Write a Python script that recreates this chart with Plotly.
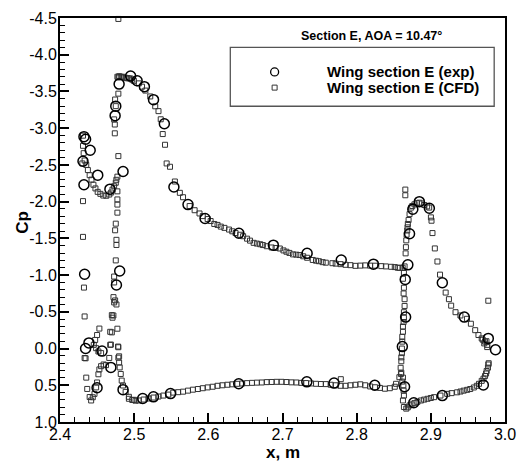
import plotly.graph_objects as go

# ---------------- data ----------------
exp_x = [2.4323, 2.4345, 2.4407, 2.4310, 2.4509, 2.4323, 2.4673, 2.4850,
         2.4743, 2.4752, 2.4797, 2.4952, 2.5040, 2.5138, 2.5261, 2.5407, 2.5536,
         2.5726, 2.5956, 2.6412, 2.6877, 2.7332, 2.7792, 2.8226,
         2.4332, 2.4345, 2.4390, 2.4567, 2.4686, 2.4500, 2.4805, 2.4761, 2.4850,
         2.5115, 2.5260, 2.5490, 2.6410, 2.7328, 2.7695, 2.8244, 2.8646,
         2.8845, 2.8757, 2.8980, 2.8713, 2.8690, 2.8655, 2.8660, 2.8616,
         2.8770, 2.9155, 2.9708, 2.9155, 2.9451, 2.9775, 2.9872]
exp_cp = [-2.885, -2.85, -2.70, -2.55, -2.36, -2.23, -2.17, -2.41,
          -3.17, -3.30, -3.60, -3.71, -3.645, -3.565, -3.388, -3.06, -2.20,
          -1.96, -1.77, -1.57, -1.407, -1.296, -1.206, -1.149,
          -1.011, 0.0, -0.077, 0.035, 0.257, 0.533, -1.056, -0.865, 0.56,
          0.68, 0.657, 0.613, 0.48, 0.453, 0.47, 0.50, 0.52,
          -2.0, -1.897, -1.91, -1.563, -1.14, -0.94, -0.428, -0.027,
          0.738, 0.64, 0.497, -0.895, -0.428, -0.138, 0.017]

# slat
slat_x = [2.4310, 2.4310, 2.4319, 2.4332, 2.4354, 2.4376, 2.4400, 2.4425, 2.4451,
          2.4478, 2.4508, 2.4544, 2.4584, 2.4624, 2.4664, 2.4690, 2.4708, 2.4730,
          2.4752, 2.4760, 2.4301, 2.4310, 2.4310, 2.4323, 2.4332, 2.4332, 2.4345,
          2.4354, 2.4367, 2.4400, 2.4420, 2.4442, 2.4465, 2.4487, 2.4500, 2.4518,
          2.4531, 2.4554, 2.4588, 2.4620, 2.4531, 2.4500, 2.4474, 2.4455, 2.4487,
          2.4518, 2.4554, 2.4677, 2.4677, 2.4664, 2.4730, 2.4720, 2.4774, 2.4783,
          2.4797]
slat_cp = [-2.898, -2.76, -2.66, -2.56, -2.50, -2.43, -2.36, -2.30, -2.23,
           -2.18, -2.133, -2.106, -2.083, -2.08, -2.097, -2.124, -2.164, -2.21,
           -2.257, -2.297, -2.52, -2.007, -1.52, -0.83, -0.437, 0.129, 0.133,
           0.396, 0.55, 0.66, 0.707, 0.663, 0.617, 0.529, 0.462, 0.35,
           0.284, 0.24, 0.217, 0.226, -0.272, -0.184, -0.117, -0.05, -0.005,
           0.04, 0.062, -0.228, -0.05, 0.128, -0.628, -0.45, -0.27, -0.027,
           0.106]

# main element leading edge column
mle_x = [2.4787, 2.4774, 2.4787, 2.4819, 2.4787, 2.4743, 2.4752, 2.4730, 2.4739,
         2.4739, 2.4787, 2.4774, 2.4774, 2.4774, 2.4774, 2.4774, 2.4752, 2.4743,
         2.4761, 2.4761, 2.4752, 2.4730, 2.4730, 2.4721, 2.4743, 2.4761, 2.4699,
         2.4708, 2.4699, 2.4686, 2.4787, 2.4787, 2.4797, 2.4805, 2.4819, 2.4832,
         2.4850, 2.4885, 2.4929, 2.4974, 2.5018]
mle_cp = [-4.487, -3.70, -3.69, -3.70, -3.47, -3.39, -3.30, -3.12, -3.05,
          -2.93, -2.62, -2.34, -2.14, -2.03, -1.96, -1.85, -1.70, -1.61,
          -1.48, -1.41, -1.20, -0.98, -0.90, -0.70, -0.655, -0.60, -0.455,
          -0.42, -0.22, -0.054, -0.018, 0.124, 0.19, 0.257, 0.346, 0.436,
          0.503, 0.59, 0.657, 0.70, 0.71]

# main element upper surface
mup_x = [2.4797, 2.4840, 2.4863, 2.4885, 2.4908, 2.4930, 2.4952, 2.4974, 2.4996,
         2.5062, 2.5106, 2.5151, 2.5217, 2.5284, 2.5328, 2.5358, 2.5385, 2.5416,
         2.5438, 2.5483, 2.5549, 2.5616, 2.5659, 2.5748, 2.5815, 2.5881, 2.5925,
         2.5991, 2.6031, 2.6080, 2.6124, 2.6168, 2.6217, 2.6279, 2.6323, 2.6367,
         2.6429, 2.6469, 2.6522, 2.6562, 2.6611, 2.6655, 2.6699, 2.6735, 2.6788,
         2.6854, 2.6907, 2.6964, 2.7013, 2.7053, 2.7093, 2.7142, 2.7186, 2.7230,
         2.7279, 2.7332, 2.7408, 2.7452, 2.7491, 2.7541, 2.7584, 2.7673, 2.7717,
         2.7783, 2.7850, 2.7916, 2.7983, 2.8049, 2.8115, 2.8182, 2.8248, 2.8332,
         2.8394, 2.8465, 2.8514, 2.8554, 2.8580, 2.8620]
mup_cp = [-3.708, -3.70, -3.69, -3.686, -3.68, -3.678, -3.676, -3.66, -3.645,
          -3.61, -3.565, -3.512, -3.432, -3.298, -3.232, -3.121, -2.92, -2.774,
          -2.52, -2.475, -2.274, -2.12, -2.06, -1.94, -1.883, -1.839, -1.803,
          -1.763, -1.736, -1.696, -1.683, -1.66, -1.643, -1.62, -1.596, -1.572,
          -1.549, -1.529, -1.496, -1.469, -1.439, -1.429, -1.42, -1.409, -1.393,
          -1.376, -1.369, -1.362, -1.336, -1.318, -1.302, -1.282, -1.278, -1.273,
          -1.256, -1.236, -1.206, -1.196, -1.189, -1.176, -1.169, -1.162, -1.156,
          -1.149, -1.14, -1.135, -1.126, -1.129, -1.132, -1.129, -1.128, -1.122,
          -1.118, -1.113, -1.109, -1.10, -1.099, -1.10]

# main element lower surface
mlo_x = [2.4929, 2.4996, 2.5062, 2.5128, 2.5195, 2.5261, 2.5328, 2.5394, 2.5460,
         2.5527, 2.5593, 2.5659, 2.5726, 2.5792, 2.5859, 2.5925, 2.5991, 2.6058,
         2.6124, 2.6190, 2.6257, 2.6323, 2.6390, 2.6456, 2.6522, 2.6589, 2.6655,
         2.6721, 2.6788, 2.6854, 2.6921, 2.6987, 2.7053, 2.7120, 2.7186, 2.7252,
         2.7319, 2.7385, 2.7452, 2.7518, 2.7584, 2.7651, 2.7717, 2.7783, 2.7786,
         2.7850, 2.7916, 2.7983, 2.8049, 2.8115, 2.8182, 2.8248, 2.8314, 2.8381,
         2.8447, 2.8514, 2.8531, 2.8576, 2.8597]
mlo_cp = [0.684, 0.698, 0.707, 0.694, 0.68, 0.667, 0.653, 0.64, 0.627,
          0.60, 0.594, 0.587, 0.573, 0.56, 0.551, 0.54, 0.529, 0.52,
          0.507, 0.50, 0.493, 0.487, 0.48, 0.476, 0.471, 0.467, 0.464,
          0.462, 0.457, 0.455, 0.453, 0.453, 0.456, 0.46, 0.462, 0.467,
          0.47, 0.475, 0.48, 0.483, 0.484, 0.493, 0.50, 0.507, 0.417,
          0.507, 0.50, 0.493, 0.487, 0.50, 0.516, 0.527, 0.536, 0.547,
          0.54, 0.52, 0.48, 0.39, 0.346]

# flap
flap_x = [2.8656, 2.8656, 2.8700, 2.8713, 2.8735, 2.8750, 2.8779, 2.8810, 2.8845,
          2.8880, 2.8912, 2.8950, 2.8978, 2.9001, 2.9009, 2.9022, 2.9054, 2.9089,
          2.9124, 2.9200, 2.9244, 2.9274, 2.9333, 2.9399, 2.9487, 2.9540, 2.9598,
          2.9642, 2.9686, 2.9700, 2.9720, 2.9731, 2.9750, 2.9760, 2.9761, 2.9775,
          2.8690, 2.8686, 2.8682, 2.8673, 2.8669, 2.8664, 2.8660, 2.8646, 2.8637,
          2.8624, 2.8637, 2.8633, 2.8646, 2.8646, 2.8637, 2.8637, 2.8633, 2.8624,
          2.8624, 2.8615, 2.8615, 2.8610, 2.8610, 2.8602, 2.8602, 2.8593, 2.8602,
          2.8624, 2.8615, 2.8630, 2.8633, 2.8637, 2.8624, 2.8637,
          2.8669, 2.8690, 2.8713, 2.8740, 2.8779, 2.8820, 2.8868, 2.8910, 2.8956,
          2.9000, 2.9044, 2.9130, 2.9221, 2.9280, 2.9354, 2.9400, 2.9443, 2.9490,
          2.9531, 2.9580, 2.9620, 2.9650, 2.9686, 2.9710, 2.9731, 2.9745, 2.9753,
          2.9770, 2.9775, 2.9780]
flap_cp = [-2.164, -2.087, -1.75, -1.83, -1.919, -1.94, -1.963, -1.98, -1.986,
           -1.975, -1.954, -1.935, -1.919, -1.786, -1.74, -1.572, -1.363, -1.185,
           -1.006, -0.762, -0.672, -0.584, -0.495, -0.45, -0.405, -0.338, -0.25,
           -0.184, -0.138, -0.12, -0.07, -0.094, -0.10, -0.02, -0.05, -0.651,
           -1.696, -1.65, -1.607, -1.55, -1.473, -1.38, -1.296, -1.118, -1.029,
           -0.95, -0.828, -0.75, -0.672, -0.58, -0.495, -0.42, -0.361, -0.30,
           -0.228, -0.16, -0.094, 0.0, 0.062, 0.12, 0.173, 0.262, 0.329,
           0.396, 0.45, 0.50, 0.573, 0.64, 0.707, 0.796,
           0.818, 0.80, 0.774, 0.76, 0.743, 0.725, 0.707, 0.695, 0.684,
           0.673, 0.662, 0.64, 0.617, 0.607, 0.596, 0.585, 0.573, 0.562,
           0.551, 0.53, 0.507, 0.48, 0.44, 0.41, 0.373, 0.34, 0.306,
           0.26, 0.217, 0.20]

cfd_x = slat_x + mle_x + mup_x + mlo_x + flap_x
cfd_cp = slat_cp + mle_cp + mup_cp + mlo_cp + flap_cp

x_ticks = [2.4, 2.5, 2.6, 2.7, 2.8, 2.9, 3.0]
x_ticktext = ["2.4", "2.5", "2.6", "2.7", "2.8", "2.9", "3.0"]
y_ticks = [-4.5, -4.0, -3.5, -3.0, -2.5, -2.0, -1.5, -1.0, -0.5, 0.0, 0.5, 1.0]
y_ticktext = ["-4.5", "-4.0", "-3.5", "-3.0", "-2.5", "-2.0", "-1.5", "-1.0",
              "-0.5", "0.0", "0.5", "1.0"]

title_text = "Section E, AOA = 10.47°"
legend_names = ["Wing section E (exp)", "Wing section E (CFD)"]

FONT = "Liberation Sans, Arial, Helvetica, sans-serif"

fig = go.Figure()
fig.add_trace(go.Scatter(
    x=cfd_x, y=cfd_cp, mode="markers", name=legend_names[1],
    marker=dict(symbol="square-open", size=5, color="#333333", line=dict(width=1)),
    showlegend=False, cliponaxis=False))
fig.add_trace(go.Scatter(
    x=exp_x, y=exp_cp, mode="markers", name=legend_names[0],
    marker=dict(symbol="circle-open", size=10, color="black", line=dict(width=1.5)),
    showlegend=False, cliponaxis=False))

# legend symbols drawn on a hidden overlay axis in plot-fraction coordinates
fig.add_trace(go.Scatter(
    x=[0.4823], y=[0.8665], xaxis="x2", yaxis="y2", mode="markers",
    marker=dict(symbol="circle-open", size=8, color="black", line=dict(width=1.3)),
    showlegend=False, hoverinfo="skip"))
fig.add_trace(go.Scatter(
    x=[0.4823], y=[0.8277], xaxis="x2", yaxis="y2", mode="markers",
    marker=dict(symbol="square-open", size=5, color="#333333", line=dict(width=1)),
    showlegend=False, hoverinfo="skip"))

fig.update_layout(
    width=526, height=466,
    margin=dict(l=60, r=14, t=10, b=44),
    paper_bgcolor="white", plot_bgcolor="white",
    font=dict(family=FONT, color="black", size=16),
    xaxis=dict(range=[2.4, 3.0], tickmode="array", tickvals=x_ticks, ticktext=x_ticktext,
               ticks="inside", ticklen=9, tickwidth=2, tickcolor="black",
               showline=True, linewidth=2, linecolor="black", mirror=True,
               showgrid=False, zeroline=False, tickfont=dict(size=16),
               ticklabelstandoff=-3,
               minor=dict(tickmode="linear", tick0=2.4, dtick=0.02, ticks="inside",
                          ticklen=5, tickwidth=1, tickcolor="black", showgrid=False)),
    yaxis=dict(range=[1.0, -4.5], tickmode="array", tickvals=y_ticks, ticktext=y_ticktext,
               ticks="inside", ticklen=9, tickwidth=2, tickcolor="black",
               showline=True, linewidth=2, linecolor="black", mirror=True,
               showgrid=False, zeroline=False, tickfont=dict(size=16),
               ticklabelstandoff=-2,
               minor=dict(tickmode="linear", tick0=0, dtick=0.1, ticks="inside",
                          ticklen=5, tickwidth=1, tickcolor="black", showgrid=False)),
    xaxis2=dict(range=[0, 1], overlaying="x", visible=False, fixedrange=True),
    yaxis2=dict(range=[0, 1], overlaying="y", visible=False, fixedrange=True),
    shapes=[dict(type="rect", xref="paper", yref="paper",
                 x0=0.3827, x1=0.9757, y0=0.7816, y1=0.9272,
                 line=dict(color="#555555", width=1.3), fillcolor="white", layer="below")],
    annotations=[
        dict(text="<b>" + title_text + "</b>", xref="paper", yref="paper",
             x=0.699, y=0.9563, xanchor="center", yanchor="middle", showarrow=False,
             font=dict(size=12.5, family=FONT)),
        dict(text="<b>" + legend_names[0] + "</b>", xref="paper", yref="paper",
             x=0.595, y=0.8665, xanchor="left", yanchor="middle", showarrow=False,
             font=dict(size=15, family=FONT)),
        dict(text="<b>" + legend_names[1] + "</b>", xref="paper", yref="paper",
             x=0.595, y=0.8277, xanchor="left", yanchor="middle", showarrow=False,
             font=dict(size=15, family=FONT)),
        dict(text="<b>x, m</b>", xref="paper", yref="paper",
             x=0.5, y=-0.0745, xanchor="center", yanchor="middle", showarrow=False,
             font=dict(size=17, family=FONT)),
        dict(text="<b>Cp</b>", xref="paper", yref="paper", textangle=-90,
             x=-0.086, y=0.495, xanchor="center", yanchor="middle", showarrow=False,
             font=dict(size=17, family=FONT)),
    ],
)

fig.write_html("out.html")
